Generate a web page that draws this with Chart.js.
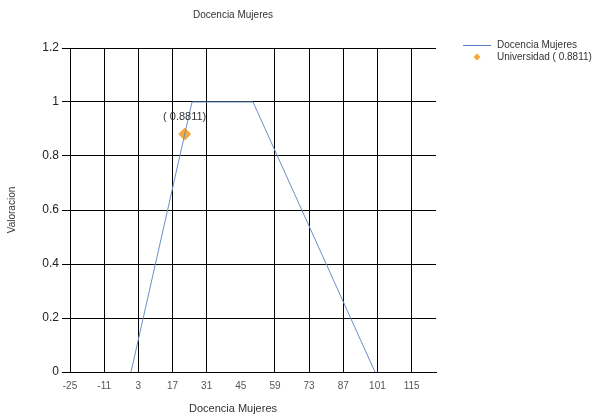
<!DOCTYPE html>
<html>
<head>
<meta charset="utf-8">
<script src="https://cdn.jsdelivr.net/npm/chart.js@4"></script>
<style>
  html, body { margin: 0; padding: 0; background: #fff; }
  #wrap { width: 614px; height: 419px; }
</style>
</head>
<body>
<div id="wrap"><canvas id="chart" width="614" height="419"></canvas></div>
<script>
// datos de la grafica
const serieX = [0, 25, 50, 100];
const serieY = [0, 1, 1, 0];
const puntoX = [22];
const puntoY = [0.8811];
const xTicks = [-25, -11, 3, 17, 31, 45, 59, 73, 87, 101, 115];
const yTicks = [0, 0.2, 0.4, 0.6, 0.8, 1, 1.2];
const titulo = "Docencia Mujeres";
const serieNombre = "Docencia Mujeres";
const puntoNombre = "Universidad ( 0.8811)";
const puntoEtiqueta = "( 0.8811)";

const fuente = "Arial, 'Liberation Sans', sans-serif";

// titulos, leyenda y etiqueta del punto
const extras = {
  id: "extras",
  afterDraw(chart) {
    const ctx = chart.ctx;
    ctx.save();
    ctx.fillStyle = "#333";
    ctx.textAlign = "center";
    ctx.textBaseline = "middle";
    ctx.font = "10px " + fuente;
    ctx.fillText(titulo, 233, 15);
    ctx.font = "11px " + fuente;
    ctx.fillText(serieNombre, 233, 409);

    ctx.save();
    ctx.translate(12, 210);
    ctx.rotate(-Math.PI / 2);
    ctx.font = "10px " + fuente;
    ctx.fillText("Valoracion", 0, 0);
    ctx.restore();

    // leyenda
    ctx.textAlign = "left";
    ctx.font = "10px " + fuente;
    ctx.strokeStyle = "#5b82c0";
    ctx.lineWidth = 1;
    ctx.beginPath();
    ctx.moveTo(463, 45.5);
    ctx.lineTo(491, 45.5);
    ctx.stroke();
    ctx.fillText(serieNombre, 497, 45);
    ctx.fillStyle = "#f4a93a";
    ctx.beginPath();
    ctx.moveTo(477, 53.5);
    ctx.lineTo(480.5, 57);
    ctx.lineTo(477, 60.5);
    ctx.lineTo(473.5, 57);
    ctx.closePath();
    ctx.fill();
    ctx.fillStyle = "#333";
    ctx.fillText(puntoNombre, 497, 57);

    // etiqueta del punto
    const p = chart.getDatasetMeta(1).data[0];
    ctx.textAlign = "center";
    ctx.font = "11px " + fuente;
    ctx.fillText(puntoEtiqueta, p.x, p.y - 17);
    ctx.restore();
  }
};

new Chart(document.getElementById("chart"), {
  type: "scatter",
  data: {
    datasets: [
      {
        label: serieNombre,
        data: serieX.map((x, i) => ({ x: x, y: serieY[i] })),
        showLine: true,
        borderColor: "#6c8fc6",
        borderWidth: 1,
        pointRadius: 0,
        fill: false,
      },
      {
        label: puntoNombre,
        data: puntoX.map((x, i) => ({ x: x, y: puntoY[i] })),
        pointStyle: "rectRot",
        pointRadius: 6,
        backgroundColor: "#f4a93a",
        borderColor: "#f4a93a",
      },
    ],
  },
  options: {
    responsive: false,
    animation: false,
    layout: { padding: { left: 0, right: 178, top: 48, bottom: 0 } },
    plugins: {
      legend: { display: false },
      title: { display: false },
      tooltip: { enabled: false },
    },
    scales: {
      x: {
        type: "linear",
        min: -25,
        max: 125,
        afterBuildTicks: (s) => { s.ticks = xTicks.map((v) => ({ value: v })); },
        afterFit: (s) => { s.height = 47; },
        grid: {
          color: (c) => (c.tick && c.tick.value === 45 ? "rgba(0,0,0,0)" : "#000"),
          lineWidth: 1,
          drawTicks: false,
        },
        border: { color: "#000", width: 1 },
        ticks: {
          color: "#555",
          padding: 8,
          maxRotation: 0,
          font: { size: 10, family: fuente },
        },
      },
      y: {
        type: "linear",
        min: 0,
        max: 1.2,
        afterBuildTicks: (s) => { s.ticks = yTicks.map((v) => ({ value: v })); },
        afterFit: (s) => { s.width = 70; },
        grid: { color: "#000", lineWidth: 1, drawTicks: true, tickLength: 8 },
        border: { display: false },
        ticks: {
          color: "#222",
          padding: 3,
          font: { size: 12, family: fuente },
          callback: (v) => String(Math.round(v * 10) / 10),
        },
      },
    },
  },
  plugins: [extras],
});
</script>
</body>
</html>
